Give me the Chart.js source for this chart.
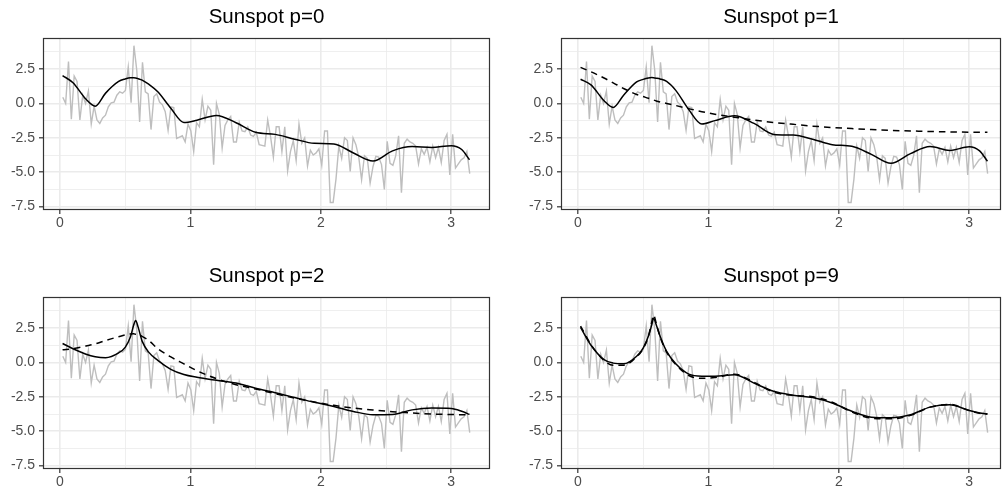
<!DOCTYPE html>
<html>
<head>
<meta charset="utf-8">
<script src="https://cdn.jsdelivr.net/npm/chart.js@4.4.1/dist/chart.umd.min.js"></script>
<style>
  html, body { margin: 0; padding: 0; background: #fff; overflow: hidden; width: 1002px; height: 491px; }
  .panel { position: absolute; }
</style>
</head>
<body>
<div class="panel" style="left:0px;top:0px"><canvas id="c0" width="501" height="245"></canvas></div>
<div class="panel" style="left:518px;top:0px"><canvas id="c1" width="484" height="245"></canvas></div>
<div class="panel" style="left:0px;top:259px"><canvas id="c2" width="501" height="245"></canvas></div>
<div class="panel" style="left:518px;top:259px"><canvas id="c3" width="484" height="245"></canvas></div>
<script>
// log periodogram of the sunspot series, Fourier frequencies k*pi/144, k = 1..144
const logPgram = [
  0.45, 0.0, 3.05, -1.15, 2.0, 1.6, -1.2, 0.6, 0.0, 0.9,
  -1.5, -0.2, -1.2, -1.45, -1.05, -0.85, -0.25, 0.05, 0.1, 0.6,
  0.85, 0.75, 0.95, 2.65, 0.05, 4.2, 2.4, -1.35, 3.0, 0.85,
  0.7, -1.9, 0.5, 0.7, 0.1, -0.1, -0.6, -1.95, -0.25, -0.3,
  -2.55, -2.45, -2.35, -2.8, -1.5, -2.0, -3.5, -1.4, -1.7, 0.3,
  -1.2, -0.2, -0.5, -4.45, 0.0, -0.8, -3.25, -1.6, -1.2, -0.95,
  -2.8, -2.8, -1.35, -2.0, -2.05, -1.7, -2.3, -2.4, -2.1, -3.0,
  -3.05, -3.1, -1.2, -2.4, -3.9, -1.7, -1.7, -3.5, -1.7, -4.9,
  -3.5, -2.7, -4.15, -1.5, -2.9, -2.5, -4.55, -3.4, -3.75, -3.6,
  -3.3, -4.5, -2.0, -2.0, -7.2, -7.2, -5.5, -3.1, -4.0, -2.5,
  -2.7, -4.95, -2.5, -3.0, -3.9, -5.55, -3.8, -4.0, -5.8, -4.6,
  -3.85, -3.9, -4.45, -6.25, -2.75, -4.35, -4.5, -3.8, -2.35, -6.5,
  -2.9, -2.6, -2.8, -2.9, -3.1, -4.4, -3.3, -3.7, -3.2, -4.25,
  -3.1, -3.95, -3.2, -4.3, -2.7, -2.25, -5.2, -2.25, -4.7, -4.4,
  -4.1, -3.95, -3.5, -5.1
];

// frequencies where the smooth estimates are read off
const smoothFreq = [0.02, 0.1, 0.2, 0.27, 0.35, 0.45, 0.5, 0.54, 0.565, 0.58, 0.6, 0.63, 0.68, 0.75, 0.85, 0.95,
  1.05, 1.2, 1.35, 1.5, 1.65, 1.8, 1.95, 2.1, 2.25, 2.4, 2.55, 2.7, 2.85, 3.0, 3.08, 3.14];

const smoothP0 = [2.03, 1.5, 0.3, -0.2, 0.75, 1.6, 1.78, 1.86, 1.86, 1.85, 1.8, 1.7, 1.4, 0.85, -0.35, -1.38,
  -1.22, -0.87, -1.4, -2.1, -2.25, -2.6, -2.9, -2.95, -3.6, -4.18, -3.45, -3.14, -3.2, -3.07, -3.35, -4.1];

const smoothP1 = [1.76, 1.35, 0.2, -0.29, 0.6, 1.57, 1.75, 1.85, 1.88, 1.87, 1.84, 1.78, 1.6, 0.95, -0.45, -1.5,
  -1.25, -0.9, -1.45, -2.25, -2.3, -2.6, -3.0, -3.12, -3.7, -4.35, -3.65, -3.14, -3.42, -3.15, -3.45, -4.2];
const arP1 = [2.62, 2.3, 1.85, 1.5, 1.09, 0.65, 0.5, 0.38, 0.3, 0.25, 0.18, 0.1, 0.0, -0.15, -0.38, -0.6,
  -0.78, -1.0, -1.21, -1.38, -1.52, -1.65, -1.75, -1.83, -1.9, -1.96, -2.0, -2.04, -2.07, -2.09, -2.1, -2.1];

const smoothP2 = [1.38, 1.0, 0.6, 0.42, 0.35, 0.7, 1.1, 1.85, 2.7, 3.05, 2.55, 1.55, 0.75, 0.15, -0.5, -0.88,
  -1.08, -1.3, -1.5, -1.88, -2.2, -2.55, -2.9, -3.2, -3.56, -3.8, -3.78, -3.45, -3.32, -3.35, -3.55, -3.78];
const arP2 = [0.92, 1.0, 1.2, 1.35, 1.6, 1.87, 2.0, 2.07, 2.08, 2.05, 2.0, 1.9, 1.6, 1.0, 0.4, -0.1,
  -0.6, -1.18, -1.62, -1.93, -2.27, -2.6, -2.88, -3.12, -3.32, -3.46, -3.58, -3.68, -3.75, -3.79, -3.8, -3.8];

const smoothP9 = [2.55, 1.25, 0.2, -0.05, -0.1, 0.45, 1.05, 1.9, 2.7, 3.22, 2.75, 1.9, 0.8, -0.1, -0.85, -1.0,
  -1.0, -0.9, -1.5, -2.1, -2.38, -2.55, -2.95, -3.55, -3.98, -4.02, -3.8, -3.25, -3.08, -3.5, -3.68, -3.75];
const arP9 = [2.65, 1.3, 0.15, -0.2, -0.2, 0.4, 1.0, 1.9, 2.9, 3.45, 2.85, 1.85, 0.75, -0.15, -0.95, -1.15,
  -1.1, -0.85, -1.45, -2.15, -2.4, -2.5, -2.9, -3.6, -4.05, -4.1, -3.85, -3.25, -3.05, -3.5, -3.7, -3.75];

const xMajor = [0, 1, 2, 3];
const xMinor = [0.5, 1.5, 2.5];
const yMajor = [-7.5, -5, -2.5, 0, 2.5];
const yMajorLabels = ['-7.5', '-5.0', '-2.5', '0.0', '2.5'];
const yMinor = [-6.25, -3.75, -1.25, 1.25, 3.75];

const freq = logPgram.map((v, i) => (i + 1) * Math.PI / 144);

Chart.defaults.font.family = "'Liberation Sans', Arial, sans-serif";
Chart.defaults.animation = false;

/**
 * ggplot theme_bw style box round the panel
 */
const panelBorder = {
  id: 'panelBorder',
  afterDraw(chart) {
    const a = chart.chartArea;
    const c = chart.ctx;
    c.save();
    c.strokeStyle = '#333333';
    c.lineWidth = 1.2;
    c.strokeRect(Math.round(a.left) + 0.5, Math.round(a.top) + 0.5,
      Math.round(a.right - a.left) - 1, Math.round(a.bottom - a.top) - 1);
    c.restore();
  }
};

function pairs(xs, ys) {
  return xs.map((x, i) => ({ x: x, y: ys[i] }));
}

function isMajor(list, v) {
  return list.some(m => Math.abs(m - v) < 1e-9);
}

function makeChart(id, title, xMax, padRight, curves) {
  const datasets = [{
    data: pairs(freq, logPgram),
    borderColor: '#BEBEBE',
    borderWidth: 1.4,
    pointRadius: 0,
    tension: 0,
    order: 3
  }];
  curves.forEach(cv => {
    datasets.push({
      data: pairs(smoothFreq, cv.values),
      borderColor: '#000000',
      borderWidth: 1.5,
      borderDash: cv.dashed ? [6.5, 5] : [],
      pointRadius: 0,
      cubicInterpolationMode: 'monotone',
      order: cv.dashed ? 1 : 2
    });
  });

  return new Chart(document.getElementById(id), {
    type: 'line',
    data: { datasets: datasets },
    plugins: [panelBorder],
    options: {
      responsive: false,
      layout: { padding: { left: 0, right: padRight, top: 0, bottom: 0 } },
      plugins: {
        legend: { display: false },
        tooltip: { enabled: false },
        title: {
          display: true,
          text: title,
          fullSize: false,
          color: '#000000',
          font: { size: 20.5, weight: 'normal' },
          padding: { top: 5, bottom: 8.4 }
        }
      },
      scales: {
        x: {
          type: 'linear',
          min: -0.13,
          max: xMax,
          afterBuildTicks: s => { s.ticks = xMajor.concat(xMinor).sort((a, b) => a - b).map(v => ({ value: v })); },
          afterFit: s => { s.height = 35; },
          border: { display: false },
          grid: {
            color: '#EBEBEB',
            lineWidth: c => (c.tick && isMajor(xMajor, c.tick.value)) ? 1.6 : 0.8,
            tickLength: 4,
            tickWidth: 1.2,
            tickColor: c => (c.tick && isMajor(xMajor, c.tick.value)) ? '#333333' : 'rgba(0,0,0,0)'
          },
          ticks: {
            autoSkip: false,
            maxRotation: 0,
            padding: 1,
            color: '#4D4D4D',
            font: { size: 14 },
            callback: v => isMajor(xMajor, v) ? String(v) : ''
          }
        },
        y: {
          type: 'linear',
          min: -7.75,
          max: 4.76,
          afterBuildTicks: s => { s.ticks = yMajor.concat(yMinor).sort((a, b) => a - b).map(v => ({ value: v })); },
          afterFit: s => { s.width = 43; },
          border: { display: false },
          grid: {
            color: '#EBEBEB',
            lineWidth: c => (c.tick && isMajor(yMajor, c.tick.value)) ? 1.6 : 0.8,
            tickLength: 4,
            tickWidth: 1.2,
            tickColor: c => (c.tick && isMajor(yMajor, c.tick.value)) ? '#333333' : 'rgba(0,0,0,0)'
          },
          ticks: {
            autoSkip: false,
            padding: 4,
            color: '#4D4D4D',
            font: { size: 14 },
            callback: v => {
              const i = yMajor.findIndex(m => Math.abs(m - v) < 1e-9);
              return i >= 0 ? yMajorLabels[i] : '';
            }
          }
        }
      }
    }
  });
}

makeChart('c0', 'Sunspot p=0', 3.297, 11, [{ values: smoothP0, dashed: false }]);
makeChart('c1', 'Sunspot p=1', 3.244, 1, [{ values: smoothP1, dashed: false }, { values: arP1, dashed: true }]);
makeChart('c2', 'Sunspot p=2', 3.297, 11, [{ values: smoothP2, dashed: false }, { values: arP2, dashed: true }]);
makeChart('c3', 'Sunspot p=9', 3.244, 1, [{ values: smoothP9, dashed: false }, { values: arP9, dashed: true }]);
</script>
</body>
</html>
